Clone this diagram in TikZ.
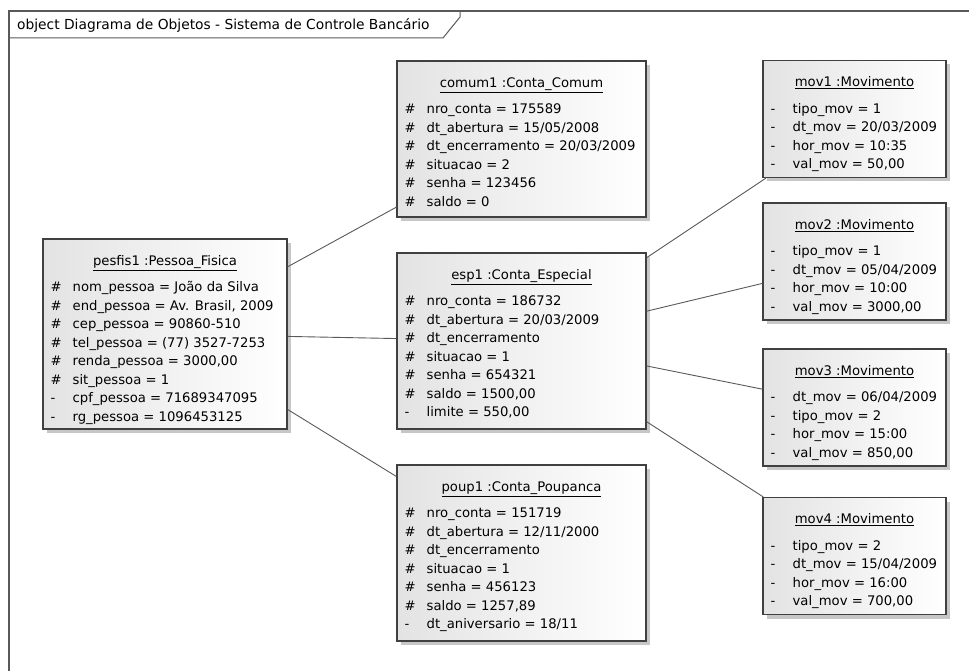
\documentclass[tikz,border=0pt]{standalone}
\usepackage{fontspec}
\setmainfont{DejaVu Sans}
\usetikzlibrary{shadows}

\begin{document}
\begin{tikzpicture}[
  x=1pt,y=-1pt,
  font=\fontsize{13.2}{18.5}\selectfont,
  frameline/.style={draw=black!65,line width=1.4pt},
  obj/.style={draw=black!75,line width=1.1pt,left color=black!11,right color=white,
    drop shadow={shadow xshift=4pt,shadow yshift=-4pt,fill=black!22,opacity=1}},
  otitle/.style={anchor=base,inner sep=0pt},
  attrs/.style={anchor=north west,inner sep=0pt},
  link/.style={draw=black!65,line width=0.9pt}
]
  \useasboundingbox (0,0) rectangle (969,671);

  % frame
  \draw[frameline] (9,671) -- (9,11) -- (969,11);
  \draw[frameline,line width=1pt] (9,38) -- (443,38) -- (460,17) -- (460,11);
  \node[anchor=west,inner sep=0pt,font=\fontsize{13.8}{16}\selectfont] (frame-label) at (17,25) {object Diagrama de Objetos - Sistema de Controle Bancário};

  % objects
  \node[obj,minimum width=244pt,minimum height=190pt] (pesfis) at (165,334) {};
  \node[otitle] (pesfis-t) at ([yshift=-27pt]pesfis.north) {\underline{pesfis1 :Pessoa\_Fisica}};
  \node[attrs] (pesfis-a) at ([shift={(8pt,-40pt)}]pesfis.north west) {\begin{tabular}{@{}p{22pt}@{}l@{}}
    \# & nom\_pessoa = João da Silva\\
    \# & end\_pessoa = Av. Brasil, 2009\\
    \# & cep\_pessoa = 90860-510\\
    \# & tel\_pessoa = (77) 3527-7253\\
    \# & renda\_pessoa = 3000,00\\
    \# & sit\_pessoa = 1\\
    -  & cpf\_pessoa = 71689347095\\
    -  & rg\_pessoa = 1096453125
  \end{tabular}};

  \node[obj,minimum width=249pt,minimum height=156pt] (comum) at (521.5,139) {};
  \node[otitle] (comum-t) at ([yshift=-27pt]comum.north) {\underline{comum1 :Conta\_Comum}};
  \node[attrs] (comum-a) at ([shift={(8pt,-40pt)}]comum.north west) {\begin{tabular}{@{}p{22pt}@{}l@{}}
    \# & nro\_conta = 175589\\
    \# & dt\_abertura = 15/05/2008\\
    \# & dt\_encerramento = 20/03/2009\\
    \# & situacao = 2\\
    \# & senha = 123456\\
    \# & saldo = 0
  \end{tabular}};

  \node[obj,minimum width=249pt,minimum height=176pt] (esp) at (521.5,341) {};
  \node[otitle] (esp-t) at ([yshift=-27pt]esp.north) {\underline{esp1 :Conta\_Especial}};
  \node[attrs] (esp-a) at ([shift={(8pt,-40pt)}]esp.north west) {\begin{tabular}{@{}p{22pt}@{}l@{}}
    \# & nro\_conta = 186732\\
    \# & dt\_abertura = 20/03/2009\\
    \# & dt\_encerramento\\
    \# & situacao = 1\\
    \# & senha = 654321\\
    \# & saldo = 1500,00\\
    -  & limite = 550,00
  \end{tabular}};

  \node[obj,minimum width=249pt,minimum height=176pt] (poup) at (521.5,553) {};
  \node[otitle] (poup-t) at ([yshift=-27pt]poup.north) {\underline{poup1 :Conta\_Poupanca}};
  \node[attrs] (poup-a) at ([shift={(8pt,-40pt)}]poup.north west) {\begin{tabular}{@{}p{22pt}@{}l@{}}
    \# & nro\_conta = 151719\\
    \# & dt\_abertura = 12/11/2000\\
    \# & dt\_encerramento\\
    \# & situacao = 1\\
    \# & senha = 456123\\
    \# & saldo = 1257,89\\
    -  & dt\_aniversario = 18/11
  \end{tabular}};

  \node[obj,minimum width=183pt,minimum height=117pt] (mov1) at (854.5,119) {};
  \node[otitle] (mov1-t) at ([yshift=-27pt]mov1.north) {\underline{mov1 :Movimento}};
  \node[attrs] (mov1-a) at ([shift={(8pt,-40pt)}]mov1.north west) {\begin{tabular}{@{}p{22pt}@{}l@{}}
    - & tipo\_mov = 1\\
    - & dt\_mov = 20/03/2009\\
    - & hor\_mov = 10:35\\
    - & val\_mov = 50,00
  \end{tabular}};

  \node[obj,minimum width=183pt,minimum height=117pt] (mov2) at (854.5,261.5) {};
  \node[otitle] (mov2-t) at ([yshift=-27pt]mov2.north) {\underline{mov2 :Movimento}};
  \node[attrs] (mov2-a) at ([shift={(8pt,-40pt)}]mov2.north west) {\begin{tabular}{@{}p{22pt}@{}l@{}}
    - & tipo\_mov = 1\\
    - & dt\_mov = 05/04/2009\\
    - & hor\_mov = 10:00\\
    - & val\_mov = 3000,00
  \end{tabular}};

  \node[obj,minimum width=183pt,minimum height=117pt] (mov3) at (854.5,407.5) {};
  \node[otitle] (mov3-t) at ([yshift=-27pt]mov3.north) {\underline{mov3 :Movimento}};
  \node[attrs] (mov3-a) at ([shift={(8pt,-40pt)}]mov3.north west) {\begin{tabular}{@{}p{22pt}@{}l@{}}
    - & dt\_mov = 06/04/2009\\
    - & tipo\_mov = 2\\
    - & hor\_mov = 15:00\\
    - & val\_mov = 850,00
  \end{tabular}};

  \node[obj,minimum width=183pt,minimum height=117pt] (mov4) at (854.5,556) {};
  \node[otitle] (mov4-t) at ([yshift=-27pt]mov4.north) {\underline{mov4 :Movimento}};
  \node[attrs] (mov4-a) at ([shift={(8pt,-40pt)}]mov4.north west) {\begin{tabular}{@{}p{22pt}@{}l@{}}
    - & tipo\_mov = 2\\
    - & dt\_mov = 15/04/2009\\
    - & hor\_mov = 16:00\\
    - & val\_mov = 700,00
  \end{tabular}};

  % links
  \draw[link] (pesfis) -- (comum);
  \draw[link] (pesfis) -- (esp);
  \draw[link] (pesfis) -- (poup);
  \draw[link] (esp) -- (mov1);
  \draw[link] (esp) -- (mov2);
  \draw[link] (esp) -- (mov3);
  \draw[link] (esp) -- (mov4);
\end{tikzpicture}
\end{document}
